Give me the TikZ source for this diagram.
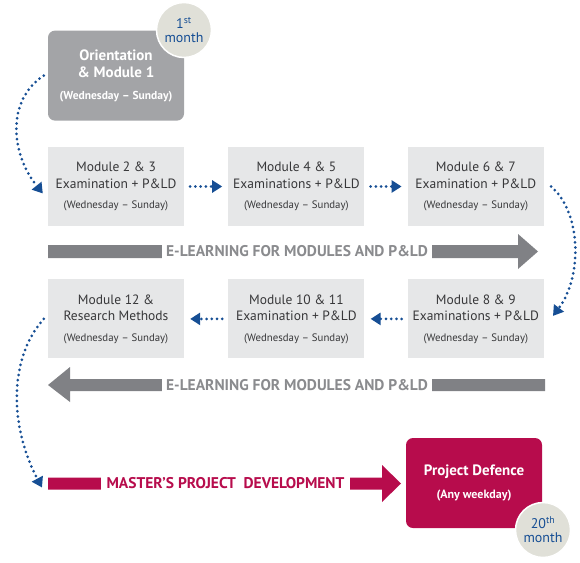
\documentclass[tikz,border=0pt]{standalone}
\usepackage{fontspec}
\setmainfont{PT Sans}
\usetikzlibrary{arrows.meta,positioning}

\definecolor{boxgray}{RGB}{230,231,232}
\definecolor{darkbox}{RGB}{163,164,167}
\definecolor{arrgray}{RGB}{128,129,133}
\definecolor{txtgray}{RGB}{138,139,142}
\definecolor{crimson}{RGB}{183,12,76}
\definecolor{dotblue}{RGB}{22,78,148}
\definecolor{circfill}{RGB}{224,224,216}
\definecolor{boxtext}{RGB}{55,55,57}

\newcommand{\wsun}{{\fontsize{10.8}{12}\selectfont(Wednesday -- Sunday)}}

\tikzset{
  modbox/.style={fill=boxgray, minimum width=136pt, minimum height=79pt, inner sep=0pt,
    align=center, text=boxtext, font=\fontsize{13.5}{16.5}\selectfont},
  orbox/.style={fill=darkbox, rounded corners=7pt, minimum width=136pt, minimum height=90pt,
    inner sep=0pt, align=center, text=white, font=\bfseries\fontsize{15}{17}\selectfont},
  defbox/.style={fill=crimson, rounded corners=7pt, minimum width=136pt, minimum height=90pt,
    inner sep=0pt, align=center, text=white, font=\bfseries\fontsize{15}{18}\selectfont},
  monthcirc/.style={circle, fill=circfill, draw=white, line width=1.5pt, minimum size=55pt,
    inner sep=0pt, align=center, text=dotblue, font=\fontsize{14}{14}\selectfont},
  elabel/.style={fill=white, inner xsep=4pt, inner ysep=3pt, font=\bfseries\fontsize{15.5}{17}\selectfont},
  dotarrow/.style={dotblue, line width=3pt, dash pattern=on 0pt off 5.2pt, line cap=round,
    -{Triangle[length=10pt,width=12pt]}}
}

\begin{document}
\begin{tikzpicture}[x=1pt,y=-1pt]
\useasboundingbox (0,0) rectangle (580,562);

% Prima riga di moduli
\node[modbox] (m23) at (116,186.5) {Module 2 \& 3\\Examination + P\&LD\\[4pt]\wsun};
\node[modbox, right=44pt of m23] (m45) {Module 4 \& 5\\Examinations + P\&LD\\[4pt]\wsun};
\node[modbox, right=43pt of m45] (m67) {Module 6 \& 7\\Examination + P\&LD\\[4pt]\wsun};

% Seconda riga di moduli
\node[modbox, below=53pt of m67] (m89) {Module 8 \& 9\\Examinations + P\&LD\\[4pt]\wsun};
\node[modbox, left=43pt of m89] (m1011) {Module 10 \& 11\\Examination + P\&LD\\[4pt]\wsun};
\node[modbox, left=44pt of m1011] (m12) {Module 12 \&\\Research Methods\\[4pt]\wsun};

% Orientamento e difesa
\node[orbox, above=26pt of m23] (ori) {Orientation\\\& Module 1\\[5pt]{\fontsize{11.5}{12}\selectfont(Wednesday -- Sunday)}};
\node[defbox] (def) at (474,483) {Project Defence\\[5pt]{\fontsize{12}{12}\selectfont(Any weekday)}};

% Mesi
\node[monthcirc] (first) at (184,30) {1\textsuperscript{st}\\month};
\node[monthcirc] (last) at (543,530) {20\textsuperscript{th}\\month};

% Frecce e-learning
\fill[arrgray] (48,245) -- (518,245) -- (518,234) -- (538,251.5) -- (518,269) -- (518,258) -- (48,258) -- cycle;
\node[elabel, text=txtgray] (el1) at (297,251.5) {E-LEARNING FOR MODULES AND P\&LD};
\fill[arrgray] (545,379) -- (70,379) -- (70,367) -- (48,385) -- (70,402) -- (70,391) -- (545,391) -- cycle;
\node[elabel, text=txtgray] (el2) at (297,385) {E-LEARNING FOR MODULES AND P\&LD};

% Progetto
\coordinate (mpdstart) at (48,483.5);
\fill[crimson] (mpdstart) ++(0,-6) -- (382,477.5) -- (382,465) -- (401,483.5) -- (382,502) -- (382,489.5) -- (48,489.5) -- cycle;
\node[elabel, text=crimson, inner xsep=6pt] (mpd) at (225.5,483.5) {MASTER'S PROJECT\ \ DEVELOPMENT};

% Frecce puntinate
\draw[dotarrow] ([xshift=-4pt]ori.west) .. controls +(-38,25) and +(-32,-40) .. ([xshift=-5pt,yshift=-7pt]m23.west);
\draw[dotarrow] ([xshift=6pt]m23.east) -- ([xshift=-6pt]m45.west);
\draw[dotarrow] ([xshift=6pt]m45.east) -- ([xshift=-6pt]m67.west);
\draw[dotarrow] ([xshift=7pt]m67.east) .. controls +(30,25) and +(30,-40) .. ([xshift=9pt,yshift=3pt]m89.east);
\draw[dotarrow] ([xshift=-6pt]m89.west) -- ([xshift=6pt]m1011.east);
\draw[dotarrow] ([xshift=-6pt]m1011.west) -- ([xshift=6pt]m12.east);
\draw[dotarrow] ([xshift=-4pt]m12.west) .. controls +(-36,40) and +(-32,-60) .. ([xshift=-6pt,yshift=-4pt]mpdstart);
\end{tikzpicture}
\end{document}
